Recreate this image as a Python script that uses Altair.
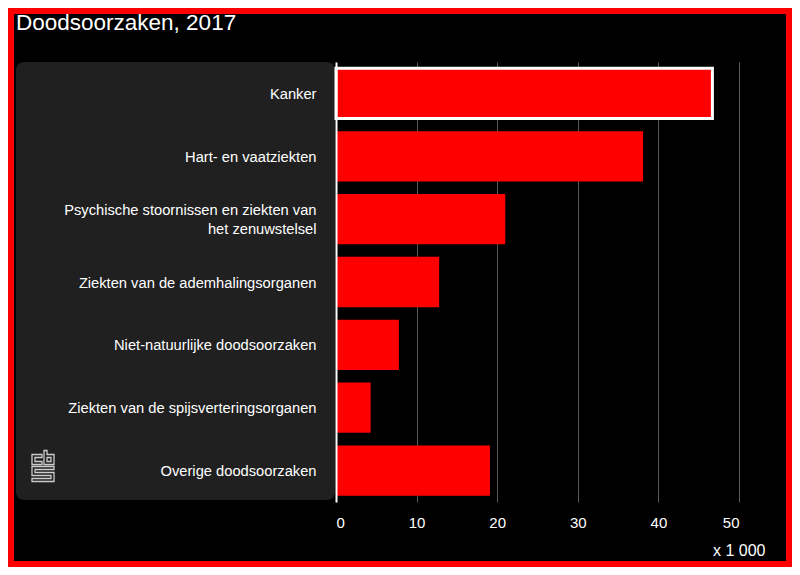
import altair as alt
import pandas as pd

# ---- data ----
causes = [
    "Kanker",
    "Hart- en vaatziekten",
    "Psychische stoornissen en ziekten van het zenuwstelsel",
    "Ziekten van de ademhalingsorganen",
    "Niet-natuurlijke doodsoorzaken",
    "Ziekten van de spijsverteringsorganen",
    "Overige doodsoorzaken",
]
deaths_x1000 = [46.7, 38.1, 21.0, 12.8, 7.8, 4.3, 19.1]
x_ticks = [0, 10, 20, 30, 40, 50]
title_text = "Doodsoorzaken, 2017"
unit_text = "x 1 000"

FONT = "Liberation Sans"
W, H = 403, 440
PAD = {"left": 328, "top": 54, "right": 53, "bottom": 65}
LONG = "Psychische stoornissen en ziekten van het zenuwstelsel"

df = pd.DataFrame({"cause": causes, "value": deaths_x1000})
one = pd.DataFrame({"t": [title_text]})

# CBS logo drawn as a custom symbol (pixel outline -> normalized [-1,1])
polys = [
    [(10, 4), (0, 4), (0, 14), (10, 14), (10, 11), (3, 11), (3, 7), (10, 7)],
    [(12, 0), (15, 0), (15, 4), (22, 4), (22, 14), (12, 14)],
    [(15, 7), (19, 7), (19, 11), (15, 11)],
    [(0, 16), (22, 16), (22, 19), (3, 19), (3, 22), (22, 22), (22, 31),
     (0, 31), (0, 28), (19, 28), (19, 25), (0, 25)],
]
def norm(p):
    return f"{(p[0] - 11) / 15.5:.3f},{(p[1] - 15.5) / 15.5:.3f}"
logo_path = " ".join("M" + " L".join(norm(p) for p in poly) + " Z" for poly in polys)

frame = alt.Chart(one).mark_rect(
    fillOpacity=0, stroke="#ff0000", strokeWidth=12
).encode(
    x=alt.value(-PAD["left"]), x2=alt.value(W + PAD["right"]),
    y=alt.value(-PAD["top"]), y2=alt.value(H + PAD["bottom"]),
)

panel = alt.Chart(one).mark_rect(color="#202020", cornerRadius=8).encode(
    x=alt.value(-320), x2=alt.value(-1), y=alt.value(0), y2=alt.value(438)
)

logo = alt.Chart(one).mark_point(
    shape=logo_path, size=961, filled=False, stroke="#cccccc",
    strokeWidth=1.3, opacity=1
).encode(x=alt.value(-293), y=alt.value(404))

title = alt.Chart(one).mark_text(
    align="left", baseline="alphabetic", font=FONT, fontSize=22.5, color="white"
).encode(text="t:N", x=alt.value(-320), y=alt.value(-32))

label_expr = (
    f"datum.label == '{LONG}' ? "
    "['Psychische stoornissen en ziekten van', 'het zenuwstelsel'] : datum.label"
)

bars = alt.Chart(df).mark_bar(color="#ff0000", stroke="white").encode(
    y=alt.Y(
        "cause:N", sort=causes, title=None,
        scale=alt.Scale(paddingInner=0.2, paddingOuter=0.1),
        axis=alt.Axis(
            domain=True, domainColor="white", domainWidth=2, ticks=False,
            labelColor="white", labelFont=FONT, labelFontSize=14.7,
            labelPadding=20, labelLimit=400, labelLineHeight=19,
            labelExpr=label_expr, zindex=1,
            labelOffset={"condition": {"test": f"datum.value == '{LONG}'", "value": -8.5},
                         "value": 1.5},
        ),
    ),
    x=alt.X(
        "value:Q", title=unit_text,
        scale=alt.Scale(domain=[0, 50], nice=False),
        axis=alt.Axis(
            values=x_ticks, format="d", grid=True, gridColor="#5a5a5a",
            domain=False, ticks=False, labelColor="white", labelFont=FONT,
            labelFontSize=15, labelPadding=13,
            titleColor="white", titleFont=FONT, titleFontSize=16,
            titleFontWeight="normal", titleAnchor="end", titleAlign="right",
            titleBaseline="middle", titleX=429, titleY=48,
        ),
    ),
    strokeWidth=alt.condition(alt.datum.cause == "Kanker", alt.value(3), alt.value(0)),
    tooltip=["cause:N", "value:Q"],
)

chart = alt.layer(frame, panel, logo, title, bars).properties(
    width=W, height=H, padding=PAD,
    autosize=alt.AutoSizeParams(type="none"),
).configure(background="#000000").configure_view(strokeWidth=0)

chart.save("out.html", embed_options={"renderer": "svg", "actions": False})
